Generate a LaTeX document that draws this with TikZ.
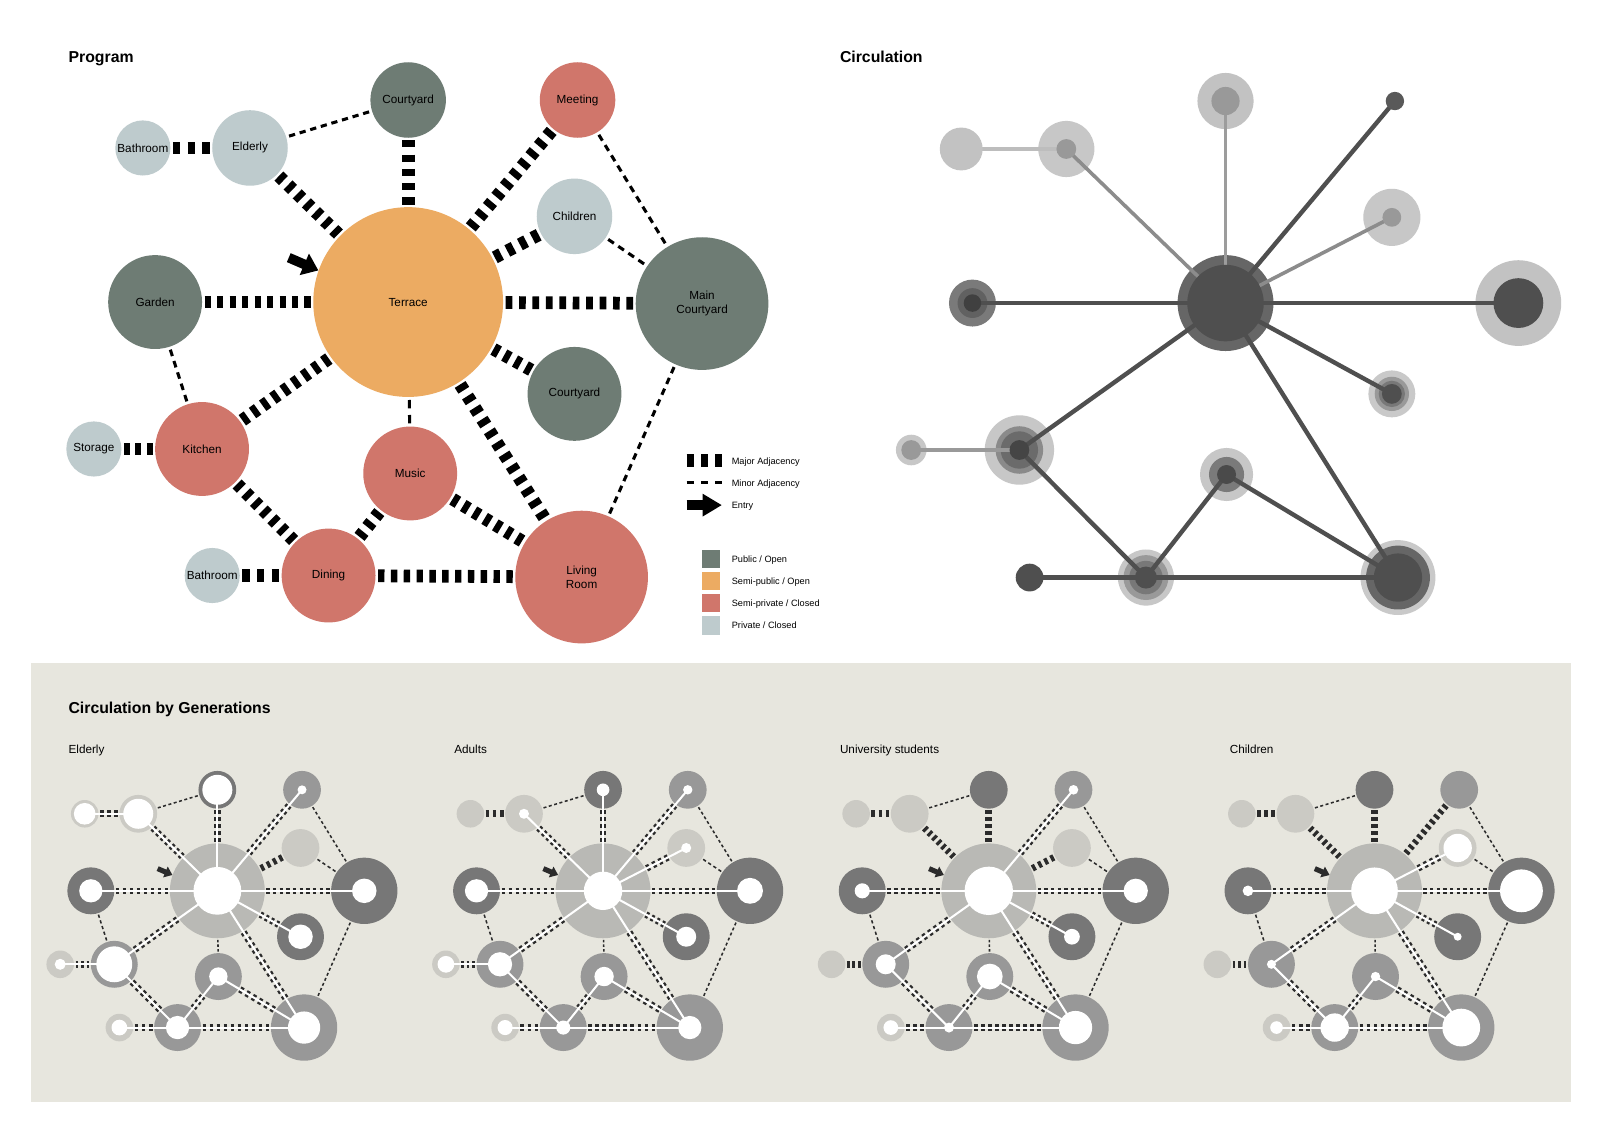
\documentclass[tikz,border=0pt]{standalone}
\usepackage{fontspec}
\setmainfont{Liberation Sans}
\usetikzlibrary{arrows.meta}
\definecolor{ppub}{HTML}{6E7C74}
\definecolor{psemipub}{HTML}{ECAB62}
\definecolor{psemipriv}{HTML}{D0766B}
\definecolor{ppri}{HTML}{BECBCD}
\definecolor{mpub}{HTML}{777777}
\definecolor{msemipub}{HTML}{B9B9B5}
\definecolor{msemipriv}{HTML}{989898}
\definecolor{mpri}{HTML}{CBCAC4}
\definecolor{panelbg}{HTML}{E7E6DE}
\definecolor{mdark}{HTML}{2B2B2B}
\tikzset{
 pnode/.style={circle, inner sep=0pt, outer sep=0pt, font=\fontsize{11.5}{14}\selectfont, align=center, text=black},
 majorline/.style={black, line width=12.5pt},
 minorline/.style={black, line width=3pt},
 mmajor/.style={mdark, line width=6.5pt},
 mminor/.style={mdark, line width=1.5pt},
 wline/.style={white, line width=2pt},
 titletext/.style={font=\bfseries\fontsize{15.5}{18}\selectfont, anchor=base west, inner sep=0pt},
 sublabel/.style={font=\fontsize{11.5}{13}\selectfont, anchor=base west, inner sep=0pt},
 legtext/.style={font=\fontsize{9}{11}\selectfont, anchor=base west, inner sep=0pt},
 legsq/.style={minimum size=18pt, inner sep=0pt, outer sep=0pt},
 darkline/.style={black!69, line width=4.3pt},
}
\def\nodelist{bath1/140/145/27/pri, eld/245/145/37/pri, cy1/400/98/37/pub, meet/566/98/37/semipriv, chil/563/212/37/pri, ter/400/296/93/semipub, gard/152/296/46/pub, mc/688/296/65/pub, cy2/563/386/46/pub, stor/92/440/27/pri, kit/198/440/46/semipriv, mus/402/464/46/semipriv, bath2/208/564/27/pri, din/322/564/46/semipriv, liv/570/564/65/semipriv}
\def\majorlist{bath1/eld, eld/ter, cy1/ter, meet/ter, chil/ter, gard/ter, ter/mc, ter/cy2, ter/kit, ter/liv, stor/kit, kit/din, mus/din, mus/liv, bath2/din, din/liv}
\def\minorlist{eld/cy1, meet/mc, chil/mc, gard/kit, ter/mus, mc/liv}
\foreach \n/\x/\y/\r/\c in \nodelist {%
 \expandafter\xdef\csname X-\n\endcsname{\x}%
 \expandafter\xdef\csname Y-\n\endcsname{\y}%
 \expandafter\xdef\csname R-\n\endcsname{\r}}
% dashed link whose dashes fit exactly between the two circles
% #1 style, #2 #3 node names, #4 #5 keys, #6 scale, #7 on, #8 off, #9 shorten
\newcommand\fitdraw[9]{%
 \edef\fdxa{\csname X-#4\endcsname}\edef\fdya{\csname Y-#4\endcsname}\edef\fdra{\csname R-#4\endcsname}%
 \edef\fdxb{\csname X-#5\endcsname}\edef\fdyb{\csname Y-#5\endcsname}\edef\fdrb{\csname R-#5\endcsname}%
 \pgfmathsetmacro\fdL{#6*(veclen(\fdxb-\fdxa,\fdyb-\fdya)-\fdra-\fdrb)-2*#9}%
 \pgfmathsetmacro\fdN{max(1,round((\fdL+#8)/(#7+#8)))}%
 \pgfmathsetmacro\fdS{\fdL/(\fdN*#7+(\fdN-1)*#8)}%
 \pgfmathsetmacro\fdOn{#7*\fdS}%
 \pgfmathsetmacro\fdOff{#8*\fdS}%
 \draw[#1, dash pattern=on \fdOn pt off \fdOff pt, shorten <=#9pt, shorten >=#9pt] (#2) -- (#3);}
% #1 prefix, #2 x offset, #3 active links, #4 inner white radii
\newcommand\minipanel[4]{%
 \foreach \n/\x/\y/\r/\c in \nodelist {\node[circle, inner sep=0pt, outer sep=0pt, minimum size=\r pt, fill=m\c] (#1-\n) at ({#2-200+0.5*\x},{725+0.5*\y}) {};}
 \foreach \a/\b in \majorlist {\fitdraw{mmajor}{#1-\a}{#1-\b}{\a}{\b}{0.5}{3.3}{3.3}{1.5}}
 \foreach \a/\b in \minorlist {\fitdraw{mminor}{#1-\a}{#1-\b}{\a}{\b}{0.5}{3}{2.5}{1.5}}
 \foreach \a/\b in {#3} {\draw[wline] (#1-\a.center) -- (#1-\b.center);}
 \foreach \n/\w in {#4} {\fill[white] (#1-\n.center) circle[radius=\w pt];}
 \coordinate (#1-ea) at ({#2-200+141.5},{725+126.25});
 \coordinate (#1-eb) at ({#2-200+156},{725+132.5});
 \draw[mdark, line width=5pt, -{Triangle[length=7.5pt,width=11pt]}] (#1-ea) -- (#1-eb);
}
\begin{document}
\begin{tikzpicture}[x=1pt,y=-1pt]
\useasboundingbox (0,0) rectangle (1568,1108.37);
\fill[white] (0,0) rectangle (1568,1108.37);

% ---------------- Program ----------------
\node[titletext] (t1) at (67,61.5) {Program};
\node[pnode, fill=ppri, minimum size=54pt] (bath1) at (140,145) {Bathroom};
\node[pnode, fill=ppri, minimum size=74pt] (eld) at (245,145) {Elderly};
\node[pnode, fill=ppub, minimum size=74pt] (cy1) at (400,98) {Courtyard};
\node[pnode, fill=psemipriv, minimum size=74pt] (meet) at (566,98) {Meeting};
\node[pnode, fill=ppri, minimum size=74pt] (chil) at (563,212) {Children};
\node[pnode, fill=psemipub, minimum size=186pt] (ter) at (400,296) {Terrace};
\node[pnode, fill=ppub, minimum size=92pt] (gard) at (152,296) {Garden};
\node[pnode, fill=ppub, minimum size=130pt] (mc) at (688,297.5) {Main\\Courtyard};
\node[pnode, fill=ppub, minimum size=92pt] (cy2) at (563,386) {Courtyard};
\node[pnode, fill=ppri, minimum size=54pt] (stor) at (92,440) {Storage};
\node[pnode, fill=psemipriv, minimum size=92pt] (kit) at (198,440) {Kitchen};
\node[pnode, fill=psemipriv, minimum size=92pt] (mus) at (402,464) {Music};
\node[pnode, fill=ppri, minimum size=54pt] (bath2) at (208,564) {Bathroom};
\node[pnode, fill=psemipriv, minimum size=92pt] (din) at (322,564) {Dining};
\node[pnode, fill=psemipriv, minimum size=130pt] (liv) at (570,565.5) {Living\\Room};
\foreach \a/\b in \majorlist {\fitdraw{majorline}{\a}{\b}{\a}{\b}{1}{6.5}{6.5}{2.5}}
\foreach \a/\b in \minorlist {\fitdraw{minorline}{\a}{\b}{\a}{\b}{1}{6.5}{5}{3}}
\coordinate (ent0) at (283,252.5);
\coordinate (ent1) at (312,265);
\draw[black, line width=9.5pt, -{Triangle[length=15pt,width=22pt]}] (ent0) -- (ent1);

% legend
\coordinate (lga) at (673,451.5); \coordinate (lgb) at (708,451.5);
\draw[black, line width=13pt, dash pattern=on 7pt off 7pt] (lga) -- (lgb);
\coordinate (lgc) at (673,472.5); \coordinate (lgd) at (708,472.5);
\draw[black, line width=3pt, dash pattern=on 7pt off 7pt] (lgc) -- (lgd);
\coordinate (lge) at (673,495); \coordinate (lgf) at (707.5,495);
\draw[black, line width=9.8pt, -{Triangle[length=19pt,width=21pt]}] (lge) -- (lgf);
\node[legtext] (lt1) at (717,454.8) {Major Adjacency};
\node[legtext] (lt2) at (717,476.3) {Minor Adjacency};
\node[legtext] (lt3) at (717,498.3) {Entry};
\node[legsq, fill=ppub] (sq1) at (697,548) {};
\node[legsq, fill=psemipub] (sq2) at (697,569.5) {};
\node[legsq, fill=psemipriv] (sq3) at (697,591) {};
\node[legsq, fill=ppri] (sq4) at (697,613) {};
\node[legtext] (lt4) at (717,551.3) {Public / Open};
\node[legtext] (lt5) at (717,572.8) {Semi-public / Open};
\node[legtext] (lt6) at (717,594.3) {Semi-private / Closed};
\node[legtext] (lt7) at (717,616.3) {Private / Closed};

% ---------------- Circulation ----------------
\node[titletext] (t2) at (823,61.5) {Circulation};
\foreach \n/\x/\y in {hub/1201/297, tl1/942/146, tl2/1045/146, top/1201/99, tr/1367/99, ru/1364/213, l/953/297, r/1488/297, rl/1364/386, ll/999/441, fl/893/441, mb/1202/465, bl/1123/566, bd/1009/566, br/1370/566}
 {\coordinate (c-\n) at (\x,\y);}
% outer rings
\foreach \n/\rr/\k in {hub/47/60, tl2/27.5/22, top/27.5/24, ru/28/22, l/23/52, l/14.6/62, r/42/24, rl/23/21, rl/16.8/40, rl/12.9/53, ll/34/22, ll/23.3/46, ll/18.3/58, fl/15/22, mb/26/22, mb/17.2/52, bl/27.5/22, bl/22/40, bl/16.4/53, br/36.7/21, br/31.3/60}
 {\fill[black!\k] (c-\n) circle[radius=\rr pt];}
% links
\draw[black!45, line width=3.5pt] (c-hub) -- (c-tl2);
\draw[black!26, line width=3.5pt] (c-tl2) -- (c-tl1);
\draw[black!39, line width=3.5pt] (c-hub) -- (c-top);
\draw[black!45, line width=3.5pt] (c-hub) -- (c-ru);
\draw[black!40, line width=3.5pt] (c-ll) -- (c-fl);
\foreach \a/\b in {hub/l, hub/r, hub/tr, hub/rl, hub/ll, hub/br, ll/bl, bl/mb, mb/br, bd/bl, bl/br}
 {\draw[darkline] (c-\a) -- (c-\b);}
% inner discs
\foreach \n/\rr/\k in {hub/37.5/69, tl1/21/24, tl2/9.7/40, top/13.8/40, tr/9/65, ru/9.2/40, l/8.6/75, r/24.4/69, rl/9.7/69, ll/9.7/73, fl/9.7/40, mb/9.3/71, bl/10.8/69, bd/13.6/69, br/23.7/69}
 {\fill[black!\k] (c-\n) circle[radius=\rr pt];}

% ---------------- Circulation by Generations ----------------
\fill[panelbg] (30,650) rectangle (1540,1080);
\node[titletext] (t3) at (67,699.5) {Circulation by Generations};
\node[sublabel] (s1) at (67,738.1) {Elderly};
\node[sublabel] (s2) at (445,738.1) {Adults};
\node[sublabel] (s3) at (823,738.1) {University students};
\node[sublabel] (s4) at (1205,738.1) {Children};

\minipanel{pe}{213}{bath1/eld, eld/ter, cy1/ter, meet/ter, gard/ter, ter/mc, ter/cy2, ter/kit, ter/liv, stor/kit, kit/din, mus/din, mus/liv, bath2/din, din/liv}{bath1/10.6, eld/14.7, cy1/14.7, meet/4.4, ter/23.4, gard/11.4, mc/12, cy2/12, stor/5.4, kit/17.6, mus/9, bath2/7.7, din/11.4, liv/15.8}
\minipanel{pa}{591}{eld/ter, cy1/ter, meet/ter, chil/ter, gard/ter, ter/mc, ter/cy2, ter/kit, ter/liv, stor/kit, kit/din, mus/din, mus/liv, bath2/din, din/liv}{eld/4.9, cy1/6.2, meet/4.6, chil/4.9, ter/18.8, gard/11.4, mc/12.7, cy2/9.8, stor/8.2, kit/11.9, mus/9.5, bath2/7.4, din/6.9, liv/11.4}
\minipanel{pu}{969}{meet/ter, gard/ter, ter/mc, ter/cy2, ter/kit, ter/liv, kit/din, mus/din, mus/liv, bath2/din, din/liv}{meet/4.7, ter/23.7, gard/7.4, mc/11.9, cy2/7.7, kit/9.8, mus/12.6, bath2/7.2, din/4.9, liv/16.3}
\minipanel{pc}{1347}{chil/ter, gard/ter, ter/mc, ter/cy2, ter/kit, ter/liv, kit/din, mus/din, mus/liv, bath2/din, din/liv}{chil/13.9, ter/22.9, gard/5.2, mc/21, cy2/3.9, kit/4.4, mus/4.6, bath2/6.2, din/13.9, liv/18.5}
\end{tikzpicture}
\end{document}
